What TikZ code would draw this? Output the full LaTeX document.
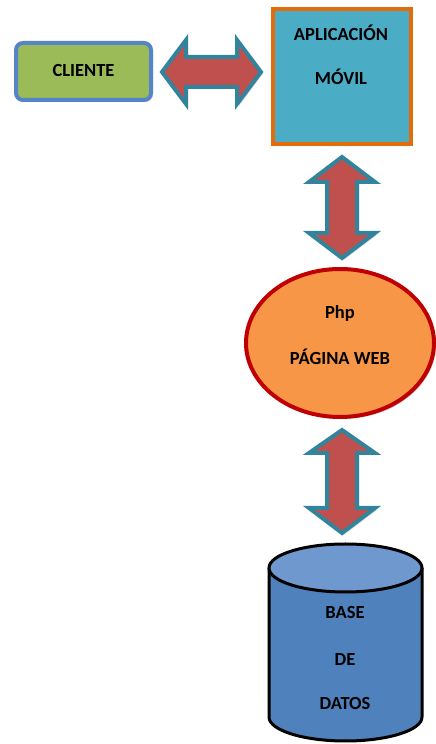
\documentclass[tikz,border=0pt]{standalone}
\usepackage{fontspec}
\setmainfont{Carlito}
\usetikzlibrary{shadows,shapes.geometric}
\definecolor{cligreen}{HTML}{9BBB59}
\definecolor{cliborder}{HTML}{5585C8}
\definecolor{appfill}{HTML}{4BACC6}
\definecolor{apporange}{HTML}{E36C0A}
\definecolor{webfill}{HTML}{F79646}
\definecolor{webborder}{HTML}{C00000}
\definecolor{arrred}{HTML}{C0504D}
\definecolor{arrteal}{HTML}{31849B}
\definecolor{dbbody}{HTML}{4F81BD}
\definecolor{dbtop}{HTML}{6F98CE}
\tikzset{
  lbl/.style={font=\bfseries\fontsize{18.5}{20}\selectfont, text=black, inner sep=0pt},
  clibox/.style={draw=cliborder, line width=4pt, fill=cligreen, rounded corners=7pt,
    drop shadow={opacity=0.3, shadow xshift=2pt, shadow yshift=-2pt}},
  appbox/.style={draw=apporange, line width=4pt, fill=appfill,
    drop shadow={opacity=0.3, shadow xshift=2pt, shadow yshift=-2pt}},
  webell/.style={draw=webborder, line width=4pt, fill=webfill,
    drop shadow={opacity=0.3, shadow xshift=2pt, shadow yshift=-2pt}},
  blockarrow/.style={draw=arrteal, line width=4pt, fill=arrred, line join=miter,
    drop shadow={opacity=0.25, shadow xshift=2pt, shadow yshift=-2pt}},
  dbshape/.style={draw=black, line width=3pt},
}
\begin{document}
\begin{tikzpicture}[x=1pt,y=1pt]
\useasboundingbox (0,0) rectangle (436,744);
% CLIENTE
\draw[clibox] (16,644) rectangle (151,701);
\node[lbl] (cli) at (83.5,673) {CLIENTE};
% APLICACION MOVIL
\draw[appbox] (273,600) rectangle (411,735);
\node[lbl] (app1) at (341,711) {APLICACIÓN};
\node[lbl] (app2) at (341,667) {MÓVIL};
% horizontal double arrow
\draw[blockarrow] (162,672) -- (186,704) -- (186,687) -- (237,687) -- (237,704)
  -- (261,672) -- (237,640) -- (237,657) -- (186,657) -- (186,640) -- cycle;
% vertical arrow 1
\draw[blockarrow] (342,587) -- (309,562) -- (327,562) -- (327,511) -- (309,511)
  -- (342,486) -- (375,511) -- (357,511) -- (357,562) -- (375,562) -- cycle;
% ellipse
\node[webell, ellipse, minimum width=188pt, minimum height=148pt] (web) at (340,401) {};
\node[lbl] (php) at (340,431) {Php};
\node[lbl] (pag) at (340,387) {PÁGINA WEB};
% vertical arrow 2
\draw[blockarrow] (342,314) -- (309,291) -- (327,291) -- (327,236) -- (309,236)
  -- (342,211) -- (375,236) -- (357,236) -- (357,291) -- (375,291) -- cycle;
% database cylinder
\fill[dbbody] (269,176) -- (269,27) arc[start angle=180, end angle=360, x radius=76.5, y radius=24] -- (422,176) -- cycle;
\draw[dbshape] (269,176) -- (269,27) arc[start angle=180, end angle=360, x radius=76.5, y radius=24] -- (422,176);
\draw[dbshape, fill=dbtop] (345.5,176) ellipse[x radius=76.5, y radius=24];
\node[lbl] (db1) at (345,132) {BASE};
\node[lbl] (db2) at (345,84) {DE};
\node[lbl] (db3) at (345,41) {DATOS};
\end{tikzpicture}
\end{document}
